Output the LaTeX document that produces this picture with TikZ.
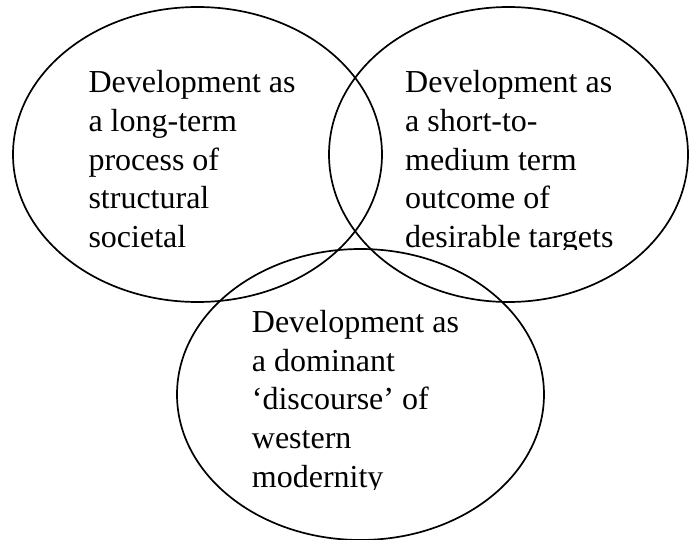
\documentclass[tikz,border=0pt]{standalone}
\usepackage{fontspec}
\setmainfont{Liberation Serif}
\usetikzlibrary{shapes.geometric}
\begin{document}
\begin{tikzpicture}[x=1pt,y=-1pt,
  circle set/.style={ellipse, draw=black, line width=1.7pt, inner sep=0pt},
  % anchored at the baseline of the last line
  set label/.style={anchor=base west, align=left, inner sep=0pt,
    font=\fontsize{32}{38.9}\selectfont}]
  \useasboundingbox (0,0) rectangle (689,540);

  % the three overlapping sets
  \node[circle set, minimum width=369pt, minimum height=295pt] (long) at (197.5,154.5) {};
  \node[circle set, minimum width=359pt, minimum height=295pt] (short) at (508.5,154.5) {};
  \node[circle set, minimum width=367pt, minimum height=291pt] (disc) at (360.5,394.5) {};

  % labels of the upper two sets, cut at the foot of their last line
  \begin{scope}
    \clip (0,0) rectangle (689,249.5);
    \node[set label] (longtext) at (88.3,247.9)
      {Development as\\a long-term\\process of\\structural\\societal};
    \node[set label] (shorttext) at (405,247.9)
      {Development as\\a short-to-\\medium term\\outcome of\\desirable targets};
  \end{scope}

  % label of the lower set
  \begin{scope}
    \clip (0,250) rectangle (689,489.5);
    \node[set label] (disctext) at (251.7,487.7)
      {Development as\\a dominant\\‘discourse’ of\\western\\modernity};
  \end{scope}
\end{tikzpicture}
\end{document}
